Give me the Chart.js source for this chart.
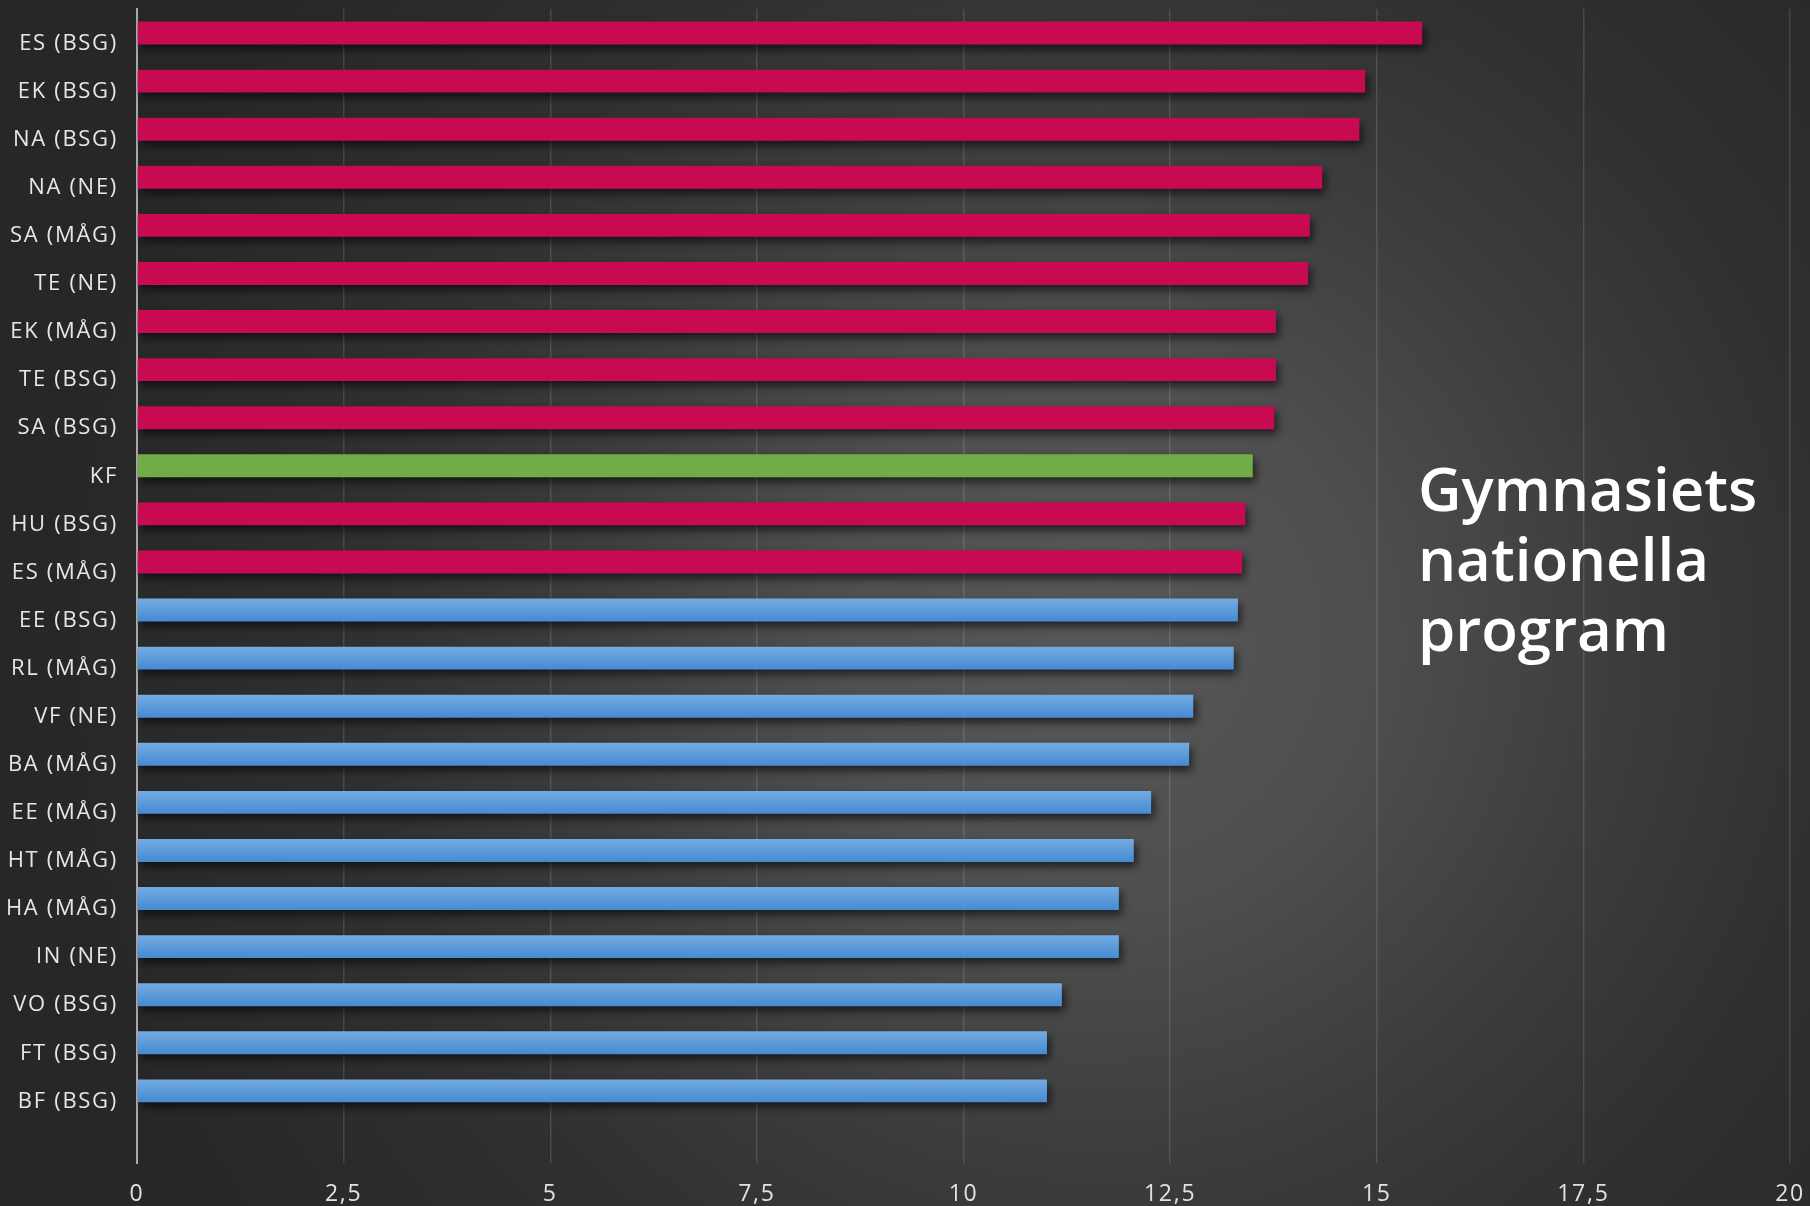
<!DOCTYPE html>
<html>
<head>
<meta charset="utf-8">
<script src="https://cdn.jsdelivr.net/npm/chart.js@4.4.1/dist/chart.umd.min.js"></script>
<style>
  html, body { margin: 0; padding: 0; background: #2a2a2a; }
  #wrap { width: 1810px; height: 1206px; }
</style>
</head>
<body>
<div id="wrap"><canvas id="c" width="1810" height="1206"></canvas></div>
<script>
// ---- data ----
const categories = ['ES (BSG)','EK (BSG)','NA (BSG)','NA (NE)','SA (MÅG)','TE (NE)','EK (MÅG)','TE (BSG)','SA (BSG)','KF','HU (BSG)','ES (MÅG)','EE (BSG)','RL (MÅG)','VF (NE)','BA (MÅG)','EE (MÅG)','HT (MÅG)','HA (MÅG)','IN (NE)','VO (BSG)','FT (BSG)','BF (BSG)'];
const values = [15.55,14.86,14.79,14.34,14.19,14.17,13.78,13.78,13.76,13.50,13.41,13.37,13.32,13.27,12.78,12.73,12.27,12.06,11.88,11.88,11.19,11.01,11.01];
const groups = ['hf','hf','hf','hf','hf','hf','hf','hf','hf','kf','hf','hf','yp','yp','yp','yp','yp','yp','yp','yp','yp','yp','yp'];
const xTicks = [0,2.5,5,7.5,10,12.5,15,17.5,20];
const titleLines = ['Gymnasiets','nationella','program'];

// ---- styles ----
const groupColors = { hf: '#c80a52', kf: '#70ad47' };
const labels = categories.concat(['']);

const bgPlugin = {
  id: 'bg',
  beforeDraw(chart) {
    const { ctx, width, height } = chart;
    ctx.save();
    ctx.letterSpacing = '0px';
    const g = ctx.createRadialGradient(1100, 640, 0, 1100, 640, 1050);
    g.addColorStop(0, '#575757');
    g.addColorStop(0.25, '#4f4f4f');
    g.addColorStop(0.5, '#3c3c3c');
    g.addColorStop(0.7, '#303030');
    g.addColorStop(1, '#272727');
    ctx.fillStyle = g;
    ctx.fillRect(0, 0, width, height);
    ctx.restore();
    ctx.letterSpacing = '1.7px';
  },
  beforeLayout(chart) { chart.ctx.letterSpacing = '1.7px'; }
};

const shadowPlugin = {
  id: 'shadow',
  beforeDatasetsDraw(chart) {
    const ctx = chart.ctx;
    ctx.save();
    ctx.shadowColor = 'rgba(0,0,0,0.6)';
    ctx.shadowBlur = 8;
    ctx.shadowOffsetX = 3;
    ctx.shadowOffsetY = 5;
  },
  afterDatasetsDraw(chart) { chart.ctx.restore(); }
};

const titlePlugin = {
  id: 'bigtitle',
  afterDraw(chart) {
    const ctx = chart.ctx;
    ctx.save();
    ctx.letterSpacing = '0px';
    ctx.font = '600 60px "Open Sans"';
    ctx.fillStyle = '#ffffff';
    ctx.textAlign = 'left';
    ctx.textBaseline = 'alphabetic';
    titleLines.forEach((t, i) => ctx.fillText(t, 1418, 511 + 70 * i));
    ctx.restore();
  }
};

function noPad(s) { s.paddingTop = 0; s.paddingBottom = 0; s.paddingLeft = 0; s.paddingRight = 0; }

new Chart(document.getElementById('c'), {
  type: 'bar',
  data: {
    labels: labels,
    datasets: [{
      data: values,
      backgroundColor: (c) => {
        const kind = groups[c.dataIndex];
        if (kind !== 'yp') return groupColors[kind];
        const chart = c.chart;
        const ys = chart.scales.y;
        if (!ys || !chart.chartArea) return '#5a9ad9';
        const cy = ys.getPixelForValue(c.dataIndex);
        const g = chart.ctx.createLinearGradient(0, cy - 11.5, 0, cy + 11.5);
        g.addColorStop(0, '#73ace2');
        g.addColorStop(1, '#468ad2');
        return g;
      },
      borderWidth: 0,
      categoryPercentage: 1,
      barPercentage: 0.475
    }]
  },
  options: {
    indexAxis: 'y',
    responsive: false,
    animation: false,
    devicePixelRatio: 1,
    layout: { padding: { top: 9, right: 20, left: 0, bottom: 0 } },
    plugins: { legend: { display: false }, tooltip: { enabled: false } },
    scales: {
      x: {
        min: 0, max: 20,
        afterBuildTicks: (s) => { s.ticks = xTicks.map(v => ({ value: v })); },
        afterFit: (s) => { s.height = 43; noPad(s); },
        grid: { color: 'rgba(255,255,255,0.13)', lineWidth: 1.5, drawTicks: false },
        border: { display: false },
        ticks: {
          color: '#e2e2e2',
          font: { family: '"Open Sans"', size: 23 },
          padding: 18,
          maxRotation: 0,
          callback: (v) => String(v).replace('.', ',')
        }
      },
      y: {
        afterFit: (s) => { s.width = 137; noPad(s); },
        grid: { display: false, drawTicks: false },
        border: { display: true, color: '#a8a8a8', width: 2 },
        ticks: {
          color: '#e6e6e6',
          font: { family: '"Open Sans"', size: 22 },
          padding: 19,
          labelOffset: 10.5,
          autoSkip: false
        }
      }
    }
  },
  plugins: [bgPlugin, shadowPlugin, titlePlugin]
});
</script>
</body>
</html>
